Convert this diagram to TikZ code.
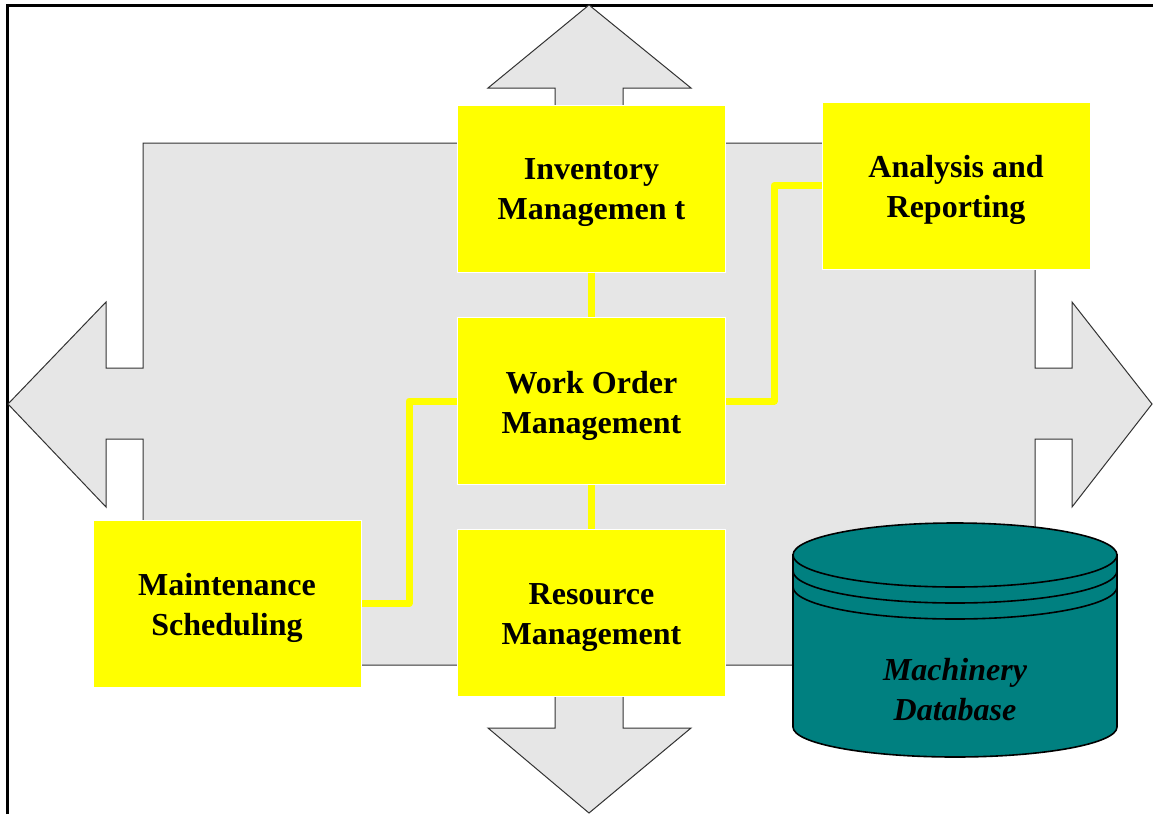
\documentclass[tikz,border=0pt]{standalone}
\usepackage{fontspec}
\setmainfont{Liberation Serif}
\usetikzlibrary{calc}
\definecolor{panelgray}{HTML}{E6E6E6}
\definecolor{dbteal}{HTML}{008080}
\definecolor{modyellow}{RGB}{255,255,0}
\begin{document}
\begin{tikzpicture}[x=1pt,y=-1pt,
  modbox/.style={fill=modyellow, draw=white, line width=1pt, minimum width=268pt,
    minimum height=167pt, inner sep=0pt,
    label={[align=center, yshift=-4.5pt, font=\fontsize{32}{40}\selectfont\bfseries]center:#1}},
  link/.style={draw=modyellow, line width=7pt, line join=round},
  panel/.style={fill=panelgray, draw=black!80, line width=1pt}]
\useasboundingbox (0,0) rectangle (1153,814);

% outer frame (top and left edges)
\draw[line width=3pt] (7,814) -- (7,5) -- (1153,5);

% grey panel with four outward arrows
\path[panel] (143,143) -- (555,143) -- (555,88) -- (488,88) -- (589,5) -- (691,88)
  -- (623,88) -- (623,143) -- (1035,143) -- (1035,368) -- (1072,368) -- (1072,302)
  -- (1152,404) -- (1072,507) -- (1072,439) -- (1035,439) -- (1035,665) -- (623,665)
  -- (623,728) -- (691,728) -- (589,813) -- (488,728) -- (555,728) -- (555,665)
  -- (143,665) -- (143,439) -- (106,439) -- (106,507) -- (8,404) -- (106,302)
  -- (106,368) -- (143,368) -- cycle;

% module boxes
\node[modbox={Inventory\\Managemen t}] (inv) at (591.5,188.5) {};
\node[modbox={Work Order\\Management}] (wo)  at (591.5,401) {};
\node[modbox={Resource\\Management}] (res) at (591.5,613) {};
\node[modbox={Analysis and\\Reporting}] (ana) at (956,185.5) {};
\node[modbox={Maintenance\\Scheduling}] (mnt) at (227,603.5) {};

% yellow links between modules
\coordinate (jr) at ($(wo.east)+(48,0)$);
\coordinate (jl) at ($(wo.west)+(-48,0)$);
\draw[link] (inv.south) -- (wo.north);
\draw[link] (wo.south) -- (res.north);
\draw[link] (wo.east) -- (jr) |- (ana.west);
\draw[link] (wo.west) -- (jl) |- (mnt.east);

% database cylinder
\begin{scope}[line width=1.6pt]
  \filldraw[fill=dbteal, draw=black] (793,555) -- (793,727)
    arc[start angle=180, end angle=0, x radius=162, y radius=30]
    -- (1117,555) -- cycle;
  \filldraw[fill=dbteal, draw=black] (955,555) ellipse [x radius=162, y radius=32];
  \draw (793,571) arc[start angle=180, end angle=0, x radius=162, y radius=32];
  \draw (793,587) arc[start angle=180, end angle=0, x radius=162, y radius=32];
\end{scope}
\node[align=center, font=\fontsize{32}{40}\selectfont\bfseries\itshape] (db) at (955,690)
  {Machinery\\Database};
\end{tikzpicture}
\end{document}
